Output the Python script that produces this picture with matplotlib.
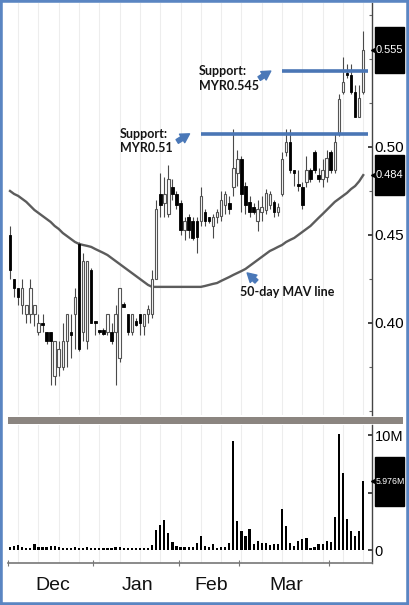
import numpy as np
import matplotlib.pyplot as plt
import matplotlib.transforms as mtransforms
from matplotlib import font_manager
from matplotlib.patches import Rectangle

# ---- data ----
opens = [0.450, 0.425, 0.420, 0.410, 0.405, 0.405, 0.405, 0.395, 0.400, 0.395,
         0.395, 0.370, 0.375, 0.375, 0.390, 0.395, 0.405, 0.445, 0.395, 0.390,
         0.430, 0.401, 0.396, 0.396, 0.395, 0.395, 0.395, 0.380, 0.411, 0.405,
         0.395, 0.401, 0.405, 0.398, 0.405, 0.405, 0.425, 0.473, 0.468, 0.462,
         0.477, 0.473, 0.468, 0.453, 0.460, 0.458, 0.458, 0.458, 0.463, 0.460,
         0.455, 0.460, 0.461, 0.467, 0.468, 0.477, 0.485, 0.493, 0.478, 0.469,
         0.466, 0.458, 0.463, 0.464, 0.467, 0.469, 0.463, 0.473, 0.497, 0.503,
         0.487, 0.479, 0.477, 0.480, 0.487, 0.497, 0.484, 0.482, 0.483, 0.497,
         0.487, 0.508, 0.531, 0.542, 0.541, 0.531, 0.517, 0.531]
highs = [0.455, 0.425, 0.420, 0.425, 0.410, 0.425, 0.410, 0.405, 0.405, 0.395,
         0.395, 0.390, 0.390, 0.400, 0.405, 0.405, 0.420, 0.446, 0.440, 0.435,
         0.431, 0.401, 0.396, 0.397, 0.405, 0.400, 0.410, 0.420, 0.412, 0.405,
         0.405, 0.403, 0.405, 0.405, 0.410, 0.430, 0.470, 0.485, 0.483, 0.490,
         0.482, 0.475, 0.470, 0.460, 0.462, 0.460, 0.460, 0.477, 0.465, 0.460,
         0.462, 0.465, 0.475, 0.475, 0.472, 0.510, 0.498, 0.495, 0.480, 0.472,
         0.468, 0.470, 0.472, 0.476, 0.475, 0.470, 0.468, 0.497, 0.510, 0.510,
         0.487, 0.487, 0.480, 0.495, 0.488, 0.498, 0.488, 0.493, 0.498, 0.498,
         0.508, 0.530, 0.551, 0.547, 0.547, 0.535, 0.535, 0.566]
lows = [0.425, 0.415, 0.410, 0.405, 0.400, 0.400, 0.398, 0.393, 0.395, 0.388,
        0.365, 0.365, 0.370, 0.373, 0.375, 0.380, 0.385, 0.384, 0.390, 0.385,
        0.400, 0.393, 0.394, 0.393, 0.393, 0.388, 0.365, 0.378, 0.409, 0.393,
        0.393, 0.398, 0.393, 0.393, 0.400, 0.403, 0.425, 0.460, 0.460, 0.460,
        0.470, 0.465, 0.450, 0.447, 0.448, 0.447, 0.440, 0.455, 0.455, 0.457,
        0.448, 0.457, 0.458, 0.462, 0.462, 0.472, 0.478, 0.463, 0.462, 0.460,
        0.462, 0.452, 0.458, 0.462, 0.465, 0.460, 0.461, 0.472, 0.495, 0.485,
        0.478, 0.475, 0.465, 0.477, 0.480, 0.485, 0.480, 0.477, 0.480, 0.485,
        0.485, 0.506, 0.530, 0.539, 0.530, 0.517, 0.517, 0.530]
closes = [0.430, 0.420, 0.415, 0.420, 0.410, 0.420, 0.410, 0.400, 0.399, 0.390,
          0.390, 0.390, 0.385, 0.390, 0.405, 0.393, 0.415, 0.385, 0.435, 0.435,
          0.400, 0.400, 0.395, 0.394, 0.405, 0.390, 0.405, 0.420, 0.409, 0.395,
          0.405, 0.399, 0.400, 0.405, 0.408, 0.425, 0.465, 0.467, 0.473, 0.482,
          0.473, 0.467, 0.453, 0.458, 0.453, 0.448, 0.449, 0.472, 0.458, 0.458,
          0.460, 0.463, 0.470, 0.473, 0.465, 0.488, 0.493, 0.473, 0.467, 0.463,
          0.463, 0.465, 0.466, 0.474, 0.473, 0.463, 0.466, 0.493, 0.503, 0.487,
          0.485, 0.478, 0.467, 0.487, 0.482, 0.487, 0.482, 0.487, 0.494, 0.487,
          0.503, 0.527, 0.537, 0.541, 0.531, 0.517, 0.528, 0.555]
mav50 = [0.4750, 0.4733, 0.4722, 0.4705, 0.4688, 0.4665, 0.4642, 0.4625, 0.4608, 0.4591,
         0.4574, 0.4551, 0.4534, 0.4511, 0.4494, 0.4477, 0.4460, 0.4449, 0.4443, 0.4438,
         0.4432, 0.4420, 0.4409, 0.4398, 0.4386, 0.4369, 0.4352, 0.4335, 0.4318, 0.4301,
         0.4284, 0.4267, 0.4250, 0.4233, 0.4216, 0.4205, 0.4205, 0.4205, 0.4205, 0.4205,
         0.4205, 0.4205, 0.4205, 0.4205, 0.4205, 0.4205, 0.4205, 0.4205, 0.4210, 0.4216,
         0.4222, 0.4227, 0.4239, 0.4250, 0.4261, 0.4273, 0.4284, 0.4295, 0.4307, 0.4324,
         0.4341, 0.4358, 0.4375, 0.4392, 0.4409, 0.4420, 0.4432, 0.4443, 0.4460, 0.4472,
         0.4483, 0.4500, 0.4517, 0.4534, 0.4551, 0.4574, 0.4597, 0.4619, 0.4642, 0.4665,
         0.4688, 0.4705, 0.4722, 0.4739, 0.4761, 0.4778, 0.4805, 0.4840]
volume_m = [0.29, 0.38, 0.43, 0.29, 0.20, 0.14, 0.49, 0.29, 0.29, 0.29,
            0.35, 0.38, 0.29, 0.14, 0.20, 0.14, 0.23, 0.20, 0.20, 0.29,
            0.20, 0.20, 0.20, 0.20, 0.20, 0.20, 0.29, 0.29, 0.20, 0.20,
            0.20, 0.20, 0.20, 0.20, 0.20, 0.43, 1.74, 2.17, 2.60, 1.45,
            0.72, 0.35, 0.29, 0.29, 0.29, 0.29, 0.64, 1.22, 0.35, 0.29,
            0.52, 0.14, 0.29, 0.29, 0.64, 9.51, 2.55, 1.65, 1.25, 1.80,
            0.49, 0.78, 0.58, 0.64, 0.41, 0.49, 0.49, 3.59, 2.12, 0.64,
            0.38, 0.78, 0.93, 1.07, 0.14, 0.29, 0.49, 0.49, 0.78, 0.67,
            2.84, 10.06, 6.67, 2.70, 1.65, 1.25, 1.65, 5.976]

month_names = ['Dec', 'Jan', 'Feb', 'Mar']
month_starts = [0, 21, 42, 57, 79]       # bar index where each period starts
support_text = ['Support:\nMYR0.51', 'Support:\nMYR0.545']
support_y = [0.5075, 0.543]              # where the drawn lines sit
support_from = [47, 67]                  # first bar index of each line
last_price = 0.555
last_mav = 0.484
last_vol = 5.976

# ---- fonts ----
names = {f.name for f in font_manager.fontManager.ttflist}
narrow = 'Liberation Sans Narrow' if 'Liberation Sans Narrow' in names else 'Liberation Sans'
annfont = 'Lato' if 'Lato' in names else 'DejaVu Sans'

W, H = 409, 605
fig = plt.figure(figsize=(W / 100, H / 100), dpi=100)
fig.patch.set_facecolor('white')

def fx(px):
    return px / W

def fy(py):
    return 1 - py / H

ax = fig.add_axes([fx(8), fy(415), fx(372) - fx(8), fy(3) - fy(415)])
axv = fig.add_axes([fx(8), fy(563), fx(372) - fx(8), fy(425) - fy(563)], sharex=ax)

o = np.array(opens); h = np.array(highs); l = np.array(lows); c = np.array(closes)
x = np.arange(len(c))
up = c >= o
lo = np.minimum(o, c)
bh = np.maximum(np.abs(c - o), 0.0012)

# faint vertical grid
for a in (ax, axv):
    for gx in range(2, len(x), 5):
        a.axvline(gx, color='#ededed', lw=0.8, zorder=0)

ax.plot(x, mav50, color='#5c5c5c', lw=1.7, zorder=1.5)
ax.vlines(x, l, h, color='#4a4a4a', lw=0.8, zorder=2)
ax.bar(x[up], bh[up], bottom=lo[up], width=0.62, facecolor='white',
       edgecolor='#555555', lw=0.8, zorder=3)
ax.bar(x[~up], bh[~up], bottom=lo[~up], width=0.62, facecolor='black',
       edgecolor='black', lw=0.6, zorder=3)

# support lines
for yv, x0 in zip(support_y, support_from):
    ax.hlines(yv, x0, 88.2, color='#4a76b5', lw=2.6, zorder=5)

ax.set_xlim(-0.49, 89.16)
ax.set_ylim(0.3477, 0.5818)

# annotations
ax.text(46.5, 0.5465, support_text[1], ha='left', va='top', fontsize=9,
        fontweight='bold', family=annfont, color='#151515', linespacing=1.25, zorder=6)
ax.text(27.1, 0.5108, support_text[0], ha='left', va='top', fontsize=9,
        fontweight='bold', family=annfont, color='#151515', linespacing=1.25, zorder=6)
ax.text(56.6, 0.4176, '50-day MAV line', ha='left', va='center', fontsize=9,
        fontweight='bold', family=annfont, color='#151515', zorder=6)

arrow_kw = dict(arrowstyle='simple,head_length=0.7,head_width=0.8,tail_width=0.35',
                fc='#4a78b8', ec='#4a78b8', mutation_scale=9)
ax.annotate('', xy=(64.8, 0.5440), xytext=(60.8, 0.5380), arrowprops=arrow_kw, zorder=6)
ax.annotate('', xy=(44.8, 0.5083), xytext=(40.6, 0.5023), arrowprops=arrow_kw, zorder=6)
ax.annotate('', xy=(57.9, 0.4295), xytext=(61.2, 0.4225), arrowprops=arrow_kw, zorder=6)

# axes styling
for a in (ax, axv):
    a.set_facecolor('white')
    for s in ('top', 'left'):
        a.spines[s].set_visible(False)
    a.spines['right'].set_color('#444444')
    a.spines['right'].set_linewidth(1.0)
    a.yaxis.tick_right()
ax.spines['bottom'].set_visible(False)
axv.spines['bottom'].set_color('#777777')
axv.spines['bottom'].set_linewidth(1.2)

ax.set_yticks([0.40, 0.45, 0.50])
ax.set_yticklabels(['0.40', '0.45', '0.50'])
ax.set_yticks([0.35, 0.375, 0.425, 0.475, 0.525, 0.55, 0.575], minor=True)
ax.tick_params(axis='y', which='major', direction='in', length=3, width=1.2,
               color='#222222', labelsize=11, pad=2)
ax.tick_params(axis='y', which='minor', direction='in', length=2, width=0.8, color='#666666')
ax.tick_params(axis='x', which='both', bottom=False, labelbottom=False)

vol = np.array(volume_m) * 1e6
axv.bar(x, vol, width=0.55, color='black', zorder=3)
axv.set_ylim(-1.13e6, 10.87e6)
axv.set_yticks([0, 5e6, 10e6])
axv.set_yticklabels(['0', '5M', '10M'])
axv.tick_params(axis='y', direction='in', length=3, width=1.2, color='#222222',
                labelsize=10.5, pad=2)
axv.set_xticks(np.array(month_starts) - 0.5)
axv.tick_params(axis='x', direction='inout', length=5, width=0.8, color='#777777',
                labelbottom=False)

for lab in ax.get_yticklabels() + axv.get_yticklabels():
    lab.set_family(narrow)

mid = [(a + b) / 2 for a, b in zip(month_starts[:-1], month_starts[1:])]
trx = mtransforms.blended_transform_factory(axv.transData, axv.transAxes)
for m, name in zip(mid, month_names):
    axv.text(m, -0.165, name, transform=trx, ha='center', va='center',
             fontsize=14, family=narrow, color='#111111')

# value tags on the right axis
def tag(a, value, text, height, size):
    tr = mtransforms.blended_transform_factory(a.transAxes, a.transData)
    a.add_patch(Rectangle((1.008, value - height / 2), 0.081, height, transform=tr,
                          clip_on=False, fc='black', ec='black', zorder=10))
    a.plot([1.005], [value], marker='<', ms=4, color='black', transform=tr,
           clip_on=False, zorder=10)
    a.text(1.049, value, text, transform=tr, ha='center', va='center', color='white',
           fontsize=size, family=narrow, zorder=11)

tag(ax, last_price, '%.3f' % last_price, 0.0265, 8)
tag(ax, last_mav, '%.3f' % last_mav, 0.0230, 8)
tag(axv, last_vol * 1e6, '%.3fM' % last_vol, 4.26e6, 6.3)

# separator bar and outer frame
fig.patches.append(Rectangle((fx(8), fy(424)), fx(403) - fx(8), fy(417) - fy(424),
                             transform=fig.transFigure, fc='#8b8580', ec='none'))
fig.patches.append(Rectangle((0, 0), 1, 1, transform=fig.transFigure, fill=False,
                             ec='#5a85c2', lw=4))

fig.savefig('out.png', dpi=100)
